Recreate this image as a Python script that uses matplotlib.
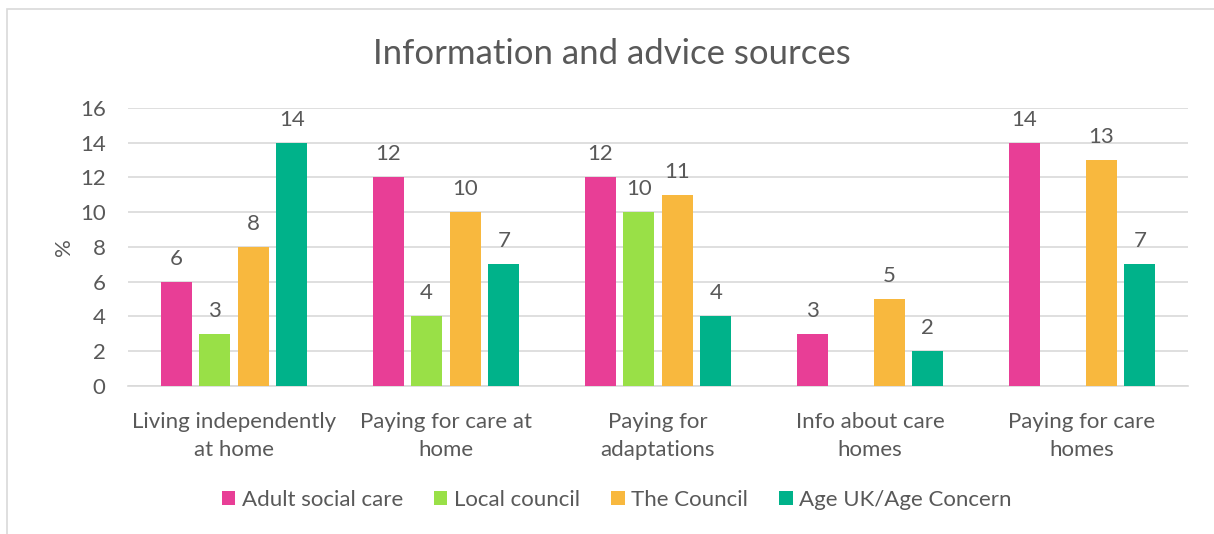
import numpy as np
import matplotlib.pyplot as plt
from matplotlib.patches import Rectangle

plt.rcParams['font.family'] = ['Lato', 'DejaVu Sans']

categories = ['Living independently\nat home', 'Paying for care at\nhome', 'Paying for\nadaptations',
              'Info about care\nhomes', 'Paying for care\nhomes']
series_names = ['Adult social care', 'Local council', 'The Council', 'Age UK/Age Concern']
adult_social_care = [6, 12, 12, 3, 14]
local_council = [3, 4, 10, np.nan, np.nan]
the_council = [8, 10, 11, 5, 13]
age_uk = [14, 7, 4, 2, 7]
colors = ['#E83E96', '#99E047', '#F8B83E', '#00B28A']

text_col = '#595959'

fig = plt.figure(figsize=(12.14, 5.34), dpi=100)
fig.patches.append(Rectangle((7 / 1214, -0.1), 1.2, 1 - 9 / 534 + 0.1, transform=fig.transFigure,
                             fill=False, edgecolor='#D9D9D9', linewidth=1.2))
ax = fig.add_axes([0.1054, 0.2772, 0.8732, 0.5206])

x = np.arange(len(categories))
width = 0.146
step = 0.182
data = [adult_social_care, local_council, the_council, age_uk]
for i, (vals, name, c) in enumerate(zip(data, series_names, colors)):
    pos = x + (i - 1.5) * step
    ax.bar(pos, vals, width, color=c, label=name, zorder=3)
    for p, v in zip(pos, vals):
        if not np.isnan(v):
            ax.text(p, v + 0.75, f'{v:g}', ha='center', va='bottom', fontsize=16, color=text_col)

ax.set_xlim(-0.5, len(categories) - 0.5)
ax.set_ylim(0, 16)
ax.set_yticks(range(0, 17, 2))
ax.set_xticks(x)
ax.set_xticklabels(categories, fontsize=16, color=text_col, linespacing=1.45)
ax.tick_params(axis='y', labelsize=16, labelcolor=text_col, length=0, pad=16)
ax.tick_params(axis='x', length=0, pad=19)
ax.grid(axis='y', color='#D9D9D9', linewidth=1.2, zorder=0)
for s in ['top', 'right', 'left']:
    ax.spines[s].set_visible(False)
ax.spines['bottom'].set_color('#D9D9D9')
ax.spines['bottom'].set_linewidth(1.2)
ax.set_ylabel('%', fontsize=16, color=text_col, labelpad=4)

fig.text(0.504, 0.898, 'Information and advice sources', ha='center', va='center',
         fontsize=25, color=text_col)

fig.legend(loc='center', bbox_to_anchor=(0.508, 0.064), ncol=4, frameon=False,
           fontsize=16, labelcolor=text_col, handlelength=0.6, handleheight=0.6,
           handletextpad=0.3, columnspacing=1.4)

plt.savefig('out.png', dpi=100)
